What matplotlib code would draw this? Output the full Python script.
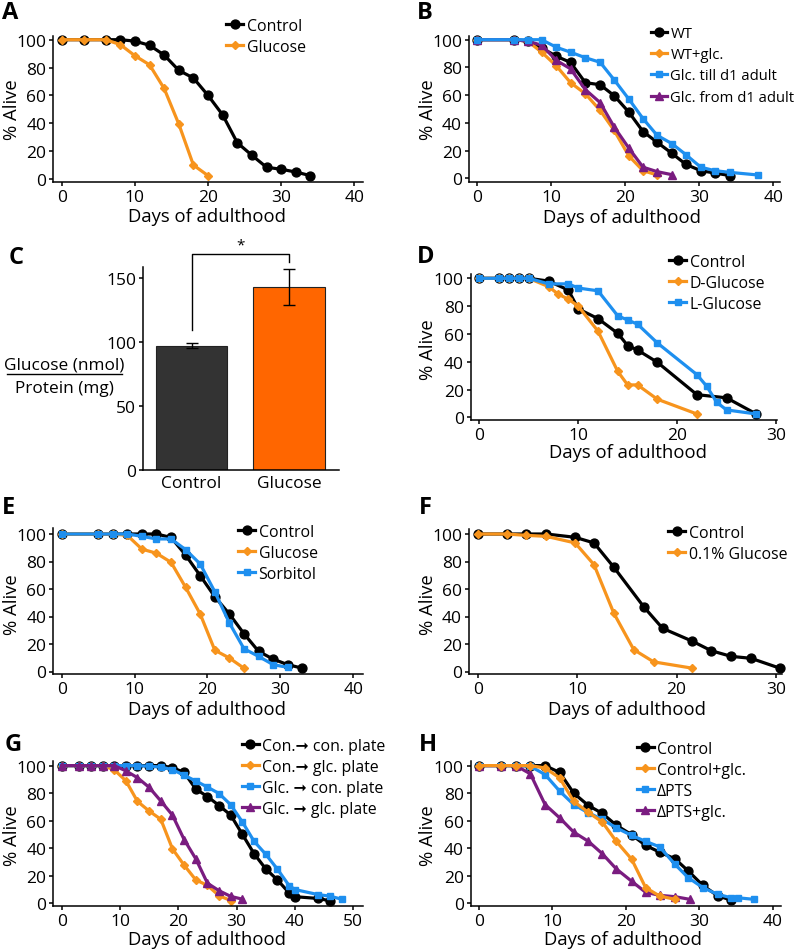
import matplotlib
matplotlib.use('Agg')
import matplotlib.pyplot as plt
from matplotlib.lines import Line2D

# ---------------- data ----------------
# Panel A
a_days_ctrl = [0, 3, 6, 8, 10, 12, 14, 16, 18, 20, 22, 24, 26, 28, 30, 32, 34]
a_ctrl = [100, 100, 100, 100, 99, 96, 89, 78, 72.5, 60, 46, 26, 17, 8.4, 7, 5, 2.4]
a_days_glc = [0, 3, 6, 8, 10, 12, 14, 16, 18, 20]
a_glc = [100, 100, 100, 96.5, 88.5, 82, 65, 39.5, 10, 2.4]

# Panel B
b_days_wt = [0, 4.9, 6.8, 8.7, 10.7, 12.6, 14.6, 16.6, 18.5, 20.5, 22.4, 24.3, 26.3, 28.2, 30.2, 32.1, 34.1]
b_wt = [100, 100, 99, 94, 88, 83.6, 69, 67.5, 59.6, 47.6, 33.7, 26, 18, 10, 5.5, 3.8, 2]
b_days_wtg = [0, 4.9, 6.8, 8.7, 10.7, 12.6, 14.6, 16.6, 18.5, 20.5, 22.4, 24.3]
b_wtg = [100, 100, 99, 91, 81, 69, 61, 49, 34.5, 16, 5.5, 2.4]
b_days_till = [0, 4.9, 6.8, 8.7, 10.7, 12.6, 14.6, 16.6, 18.5, 20.5, 22.4, 24.3, 26.3, 28.2, 30.2, 32.1, 34.1, 37.9]
b_till = [100, 100, 100, 100, 94.5, 91, 87, 83.7, 71, 57, 43, 31, 25, 17, 8, 5.5, 4.3, 2.4]
b_days_from = [0, 4.9, 6.8, 8.7, 10.7, 12.6, 14.6, 16.6, 18.5, 20.5, 22.4, 24.3, 26.3]
b_from = [100, 100, 99, 96, 85, 79, 64, 54.6, 37, 21.6, 8, 4.8, 2.6]

# Panel C
c_groups = ['Control', 'Glucose']
c_means = [97, 142.5]
c_errs = [2, 14]

# Panel D
d_days_ctrl = [0, 2, 3, 4, 5, 7, 9, 10, 12, 14, 15, 16, 18, 22, 25, 28]
d_ctrl = [100, 100, 100, 100, 100, 98, 91.6, 78, 71, 60.4, 51.6, 48.4, 39.6, 16.3, 14, 2.4]
d_days_dglc = [0, 2, 3, 4, 5, 7, 8, 9, 10, 12, 14, 15, 16, 18, 22]
d_dglc = [100, 100, 100, 100, 100, 94, 88.5, 85, 80, 62, 33, 23.3, 23.3, 13, 2.4]
d_days_lglc = [0, 2, 3, 4, 5, 7, 9, 10, 12, 14, 15, 16, 18, 22, 23, 24, 25, 28]
d_lglc = [100, 100, 100, 100, 100, 96, 96, 93, 91, 73, 70, 67, 53.5, 30.7, 22.3, 10.8, 5.3, 2.4]

# Panel E
e_days_ctrl = [0, 5, 7, 9, 11, 13, 15, 17, 19, 21, 23, 25, 27, 29, 31, 33]
e_ctrl = [100, 100, 100, 100, 100, 100, 97.5, 84.7, 69.7, 54.4, 41.8, 27.5, 14.7, 9, 5, 2.4]
e_days_glc = [0, 5, 7, 9, 11, 13, 15, 17, 19, 21, 23, 25]
e_glc = [100, 100, 100, 99, 89, 86, 79.4, 61.2, 41.8, 15.5, 9.8, 2.4]
e_days_sor = [0, 5, 7, 9, 11, 13, 15, 17, 19, 21, 23, 25, 27, 29, 31]
e_sor = [100, 100, 100, 100, 98.3, 96.4, 96.4, 88.6, 78.2, 58, 35.3, 16.6, 11, 5, 3]

# Panel F
f_days_ctrl = [0, 2.9, 4.9, 6.9, 9.8, 11.7, 13.7, 16.7, 18.6, 21.6, 23.5, 25.5, 27.5, 30.4]
f_ctrl = [100, 100, 100, 100, 97.6, 93.5, 75.8, 47.1, 31.4, 22, 15.1, 11, 9.6, 2.4]
f_days_glc = [0, 2.9, 4.9, 6.9, 9.8, 11.7, 13.7, 15.7, 17.7, 21.6]
f_glc = [100, 100, 99, 98.3, 93.5, 77.7, 42.3, 15.9, 7, 2.4]

# Panel G
g_days_cc = [0, 3, 5, 7, 9, 11, 13, 15, 17, 19, 21, 23, 25, 27, 29, 31, 33, 35, 37, 39, 40, 44, 46]
g_cc = [100, 100, 100, 100, 100, 100, 100, 100, 100, 98.5, 95, 83, 77.5, 71, 64, 50, 36, 25, 17, 7.6, 4.8, 3.5, 1.8]
g_days_cg = [0, 3, 5, 7, 9, 11, 13, 15, 17, 19, 21, 23, 25, 27, 29]
g_cg = [100, 100, 100, 100, 97, 89, 74, 67, 61, 39.5, 27.7, 17, 13, 5.5, 2]
g_days_gc = [0, 3, 5, 7, 9, 11, 13, 15, 17, 19, 21, 23, 25, 27, 29, 31, 33, 35, 37, 39, 40, 44, 46, 48]
g_gc = [100, 100, 100, 100, 100, 100, 100, 99.5, 99, 97, 93, 88.8, 84.4, 79.7, 71.5, 59, 45, 35.6, 24.8, 12.9, 10, 6.3, 5.2, 3]
g_days_gg = [0, 3, 5, 7, 9, 11, 13, 15, 17, 19, 21, 23, 25, 27, 29, 31]
g_gg = [100, 100, 100, 100, 100, 96.2, 91.2, 84.2, 74.3, 64, 46.3, 32.3, 14.6, 9.1, 5, 3]

# Panel H
h_days_ctrl = [0, 3, 5, 7, 9, 11, 12.9, 14.9, 16.8, 18.7, 20.8, 22.7, 24.6, 26.7, 28.5, 30.5, 32.5, 34.4]
h_ctrl = [100, 100, 100, 100, 100, 95, 80, 71, 65.3, 56.7, 49.8, 42, 37.2, 32.3, 23.5, 13, 5.5, 2.2]
h_days_cg = [0, 3, 5, 7, 9, 11, 12.9, 14.9, 16.8, 18.7, 20.8, 22.7, 24.6, 26.7]
h_cg = [100, 100, 100, 100, 98.3, 91, 74, 66, 59, 45, 32, 11.4, 5.3, 2.9]
h_days_pts = [0, 3, 5, 7, 9, 11, 12.9, 14.9, 16.8, 18.7, 20.8, 22.7, 24.6, 26.7, 28.5, 30.5, 32.5, 34.4, 35.3, 37.4]
h_pts = [100, 100, 100, 99.5, 93.5, 81.4, 71.7, 65.7, 61, 54.8, 49.3, 45, 41, 28.3, 18.6, 11.4, 6.5, 4, 4, 2.9]
h_days_ptsg = [0, 3, 5, 7, 9, 11, 12.9, 14.9, 16.8, 18.7, 20.8, 22.7, 24.6, 26.7, 28.7]
h_ptsg = [100, 100, 100, 94, 71.7, 62, 51.7, 45, 36, 25, 16, 8, 5.8, 4.8, 2.9]

# ---------------- style ----------------
W, H = 800, 953
plt.rcParams['font.family'] = ['Open Sans', 'DejaVu Sans']
BLACK = '#000000'
ORANGE = '#F7941D'
BLUE = '#1E8FEF'
PURPLE = '#7A1C80'
STY = {
    'k': dict(color=BLACK, marker='o', ms=6.4),
    'o': dict(color=ORANGE, marker='D', ms=3.8),
    'b': dict(color=BLUE, marker='s', ms=4.8),
    'p': dict(color=PURPLE, marker='^', ms=5.2),
}
TICK_FS = 12.5
LEG_FS = 11.4
LAB_FS = 13.3
LET_FS = 17

fig = plt.figure(figsize=(W / 100, H / 100), dpi=100)


def fx(x):
    return x / W


def fy(y):
    return 1 - y / H


def panel(left, top, right, bottom, x0, ppx, y0, ppy):
    ax = fig.add_axes([left / W, 1 - bottom / H, (right - left) / W, (bottom - top) / H])
    ax.set_xlim((left - x0) / ppx, (right - x0) / ppx)
    ax.set_ylim((y0 - bottom) / ppy, (y0 - top) / ppy)
    for s in ['top', 'right']:
        ax.spines[s].set_visible(False)
    for s in ['left', 'bottom']:
        ax.spines[s].set_linewidth(1.1)
    ax.tick_params(direction='out', length=3, width=1.1, labelsize=TICK_FS, pad=2)
    ax.set_yticks([0, 20, 40, 60, 80, 100])
    ax.patch.set_alpha(0)
    return ax


def series(ax, days, vals, key, label):
    s = STY[key]
    ln, = ax.plot(days, vals, color=s['color'], lw=2.3, marker=s['marker'], ms=s['ms'],
                  mfc=s['color'], mec=s['color'], clip_on=False, label=label)
    return ln


def legend(ax, handles, x, y, fs=LEG_FS, spacing=0.31):
    ax.legend(handles=handles, loc='upper left', bbox_to_anchor=(fx(x), fy(y)),
              bbox_transform=fig.transFigure, frameon=False, borderpad=0, borderaxespad=0,
              handlelength=1.1, handletextpad=0.2, labelspacing=spacing, fontsize=fs,
              numpoints=1)


def labels(ylab_x, ylab_y, xlab_x, xlab_y):
    fig.text(fx(ylab_x), fy(ylab_y), '% Alive', rotation=90, ha='center', va='center', fontsize=LAB_FS)
    fig.text(fx(xlab_x), fy(xlab_y), 'Days of adulthood', ha='center', va='center', fontsize=LAB_FS)


def letter(t, x, y):
    fig.text(fx(x), fy(y), t, ha='center', va='center', fontsize=LET_FS, fontweight='bold')


# ---------------- Panel A ----------------
ax = panel(53.3, 36.7, 363, 182.7, 61.7, 7.317, 180, 1.393)
ax.set_xticks([0, 10, 20, 30, 40])
h1 = series(ax, a_days_ctrl, a_ctrl, 'k', 'Control')
h2 = series(ax, a_days_glc, a_glc, 'o', 'Glucose')
legend(ax, [h1, h2], 226, 19)
labels(12, 110, 206.7, 217)
letter('A', 10, 13)

# ---------------- Panel B ----------------
ax = panel(469, 36.7, 780, 182.7, 477.3, 7.4, 179.3, 1.386)
ax.set_xticks([0, 10, 20, 30, 40])
h1 = series(ax, b_days_wt, b_wt, 'k', 'WT')
h2 = series(ax, b_days_wtg, b_wtg, 'o', 'WT+glc.')
h4 = series(ax, b_days_from, b_from, 'p', 'Glc. from d1 adult')
h3 = series(ax, b_days_till, b_till, 'b', 'Glc. till d1 adult')
legend(ax, [h1, h2, h3, h4], 651, 27, fs=10.7, spacing=0.42)
labels(428, 110, 622, 218)
letter('B', 425, 13)

# ---------------- Panel C ----------------
cl, ct, cr, cb = 143, 268.3, 339, 470.7
axc = fig.add_axes([cl / W, 1 - cb / H, (cr - cl) / W, (cb - ct) / H])
axc.set_xlim((cl - 191.5) / 97.5, (cr - 191.5) / 97.5)
axc.set_ylim(0, (cb - ct) / 1.28)
axc.patch.set_alpha(0)
for s in ['top', 'right']:
    axc.spines[s].set_visible(False)
for s in ['left', 'bottom']:
    axc.spines[s].set_linewidth(1.1)
xpos = list(range(len(c_groups)))
axc.bar(xpos, c_means, width=0.73, color=['#333333', '#FF6600'], edgecolor='#222222', linewidth=0.8)
axc.errorbar(xpos, c_means, yerr=c_errs, fmt='none', ecolor='black', elinewidth=1, capsize=4, capthick=1)
axc.set_xticks(xpos)
axc.set_xticklabels(c_groups)
axc.set_yticks([0, 50, 100, 150])
axc.tick_params(axis='y', direction='out', length=3, width=1.1, labelsize=TICK_FS, pad=2)
axc.tick_params(axis='x', length=0, labelsize=TICK_FS, pad=4)
bracket_top = 168.5
axc.plot([0, 0, 1, 1], [c_means[0] + c_errs[0] + 10, bracket_top, bracket_top, c_means[1] + c_errs[1] + 5.5],
         color='black', lw=1, clip_on=False)
axc.text(0.5, bracket_top + 1, '*', ha='center', va='bottom', fontsize=11, clip_on=False)
fig.text(fx(64), fy(366), 'Glucose (nmol)', ha='center', va='center', fontsize=12.4)
fig.text(fx(64), fy(389), 'Protein (mg)', ha='center', va='center', fontsize=12.4)
fig.add_artist(Line2D([fx(7), fx(122)], [fy(374.5), fy(374.5)], color='black', lw=1, transform=fig.transFigure))
letter('C', 16, 258)

# ---------------- Panel D ----------------
ax = panel(470.7, 275, 776.7, 421, 479.3, 9.89, 418.3, 1.39)
ax.set_xticks([0, 10, 20, 30])
h1 = series(ax, d_days_ctrl, d_ctrl, 'k', 'Control')
h2 = series(ax, d_days_dglc, d_dglc, 'o', 'D-Glucose')
h3 = series(ax, d_days_lglc, d_lglc, 'b', 'L-Glucose')
legend(ax, [h1, h2, h3], 669, 255)
labels(428, 350, 628, 453)
letter('D', 426, 257)

# ---------------- Panel E ----------------
ax = panel(53.3, 529.3, 363.3, 675, 61.7, 7.29, 672.5, 1.375)
ax.set_xticks([0, 10, 20, 30, 40])
h1 = series(ax, e_days_ctrl, e_ctrl, 'k', 'Control')
h2 = series(ax, e_days_glc, e_glc, 'o', 'Glucose')
h3 = series(ax, e_days_sor, e_sor, 'b', 'Sorbitol')
legend(ax, [h1, h2, h3], 238, 525)
labels(12, 605, 206.7, 710)
letter('E', 9, 508)

# ---------------- Panel F ----------------
ax = panel(469, 530, 781.7, 675, 477.7, 9.94, 672.5, 1.375)
ax.set_xticks([0, 10, 20, 30])
h1 = series(ax, f_days_ctrl, f_ctrl, 'k', 'Control')
h2 = series(ax, f_days_glc, f_glc, 'o', '0.1% Glucose')
legend(ax, [h1, h2], 668, 526)
labels(428, 605, 626.7, 710)
letter('F', 425, 508)

# ---------------- Panel G ----------------
ax = panel(53.3, 761.7, 363.3, 907.3, 61.7, 5.83, 904.3, 1.377)
ax.set_xticks([0, 10, 20, 30, 40, 50])
h1 = series(ax, g_days_cc, g_cc, 'k', 'Con.\u279e con. plate')
h2 = series(ax, g_days_cg, g_cg, 'o', 'Con.\u279e glc. plate')
h3 = series(ax, g_days_gc, g_gc, 'b', 'Glc. \u279e con. plate')
h4 = series(ax, g_days_gg, g_gg, 'p', 'Glc. \u279e glc. plate')
legend(ax, [h1, h2, h3, h4], 241.5, 739)
labels(12, 836, 206.7, 940)
letter('G', 13, 745)

# ---------------- Panel H ----------------
ax = panel(470.7, 761.7, 781, 907.3, 479, 7.34, 904.3, 1.377)
ax.set_xticks([0, 10, 20, 30, 40])
h1 = series(ax, h_days_ctrl, h_ctrl, 'k', 'Control')
h3 = series(ax, h_days_pts, h_pts, 'b', '\u0394PTS')
h4 = series(ax, h_days_ptsg, h_ptsg, 'p', '\u0394PTS+glc.')
h2 = series(ax, h_days_cg, h_cg, 'o', 'Control+glc.')
legend(ax, [h1, h2, h3, h4], 636.5, 742)
labels(428, 836, 623, 940)
letter('H', 428, 745)

fig.savefig('out.png', dpi=100)
